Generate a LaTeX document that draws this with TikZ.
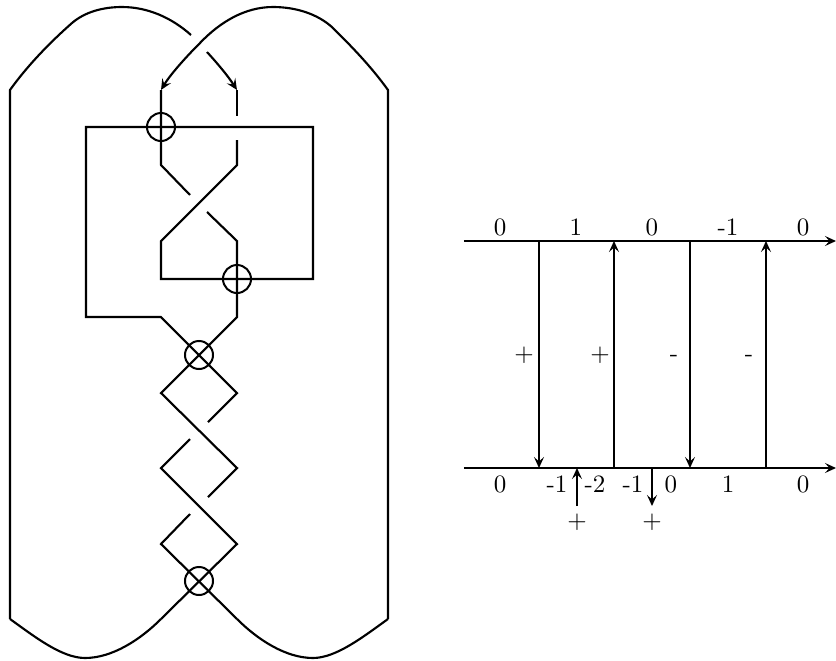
\documentclass[tikz,border=0pt]{standalone}
\usetikzlibrary{arrows.meta}
\tikzset{
  strand/.style={line width=0.85pt,line join=miter},
  ring/.style={circle,draw,line width=0.8pt,minimum size=11.2pt,inner sep=0pt,outer sep=0pt},
  lab/.style={inner sep=0pt,anchor=center},
  tip/.style={-{Stealth[length=4.4pt,width=4pt,inset=1.8pt]}}
}
\begin{document}
\begin{tikzpicture}[x=0.4pt,y=-0.4pt]
\useasboundingbox (0,0) rectangle (836,661);
% knot corners
\coordinate (LA) at (161,90);
\coordinate (RA) at (237,90);
\coordinate (L1) at (161,165);
\coordinate (R1) at (237,165);
\coordinate (L2) at (161,241);
\coordinate (R2) at (237,241);
\coordinate (L3) at (161,317);
\coordinate (R3) at (237,317);
\coordinate (L4) at (161,393);
\coordinate (R4) at (237,393);
\coordinate (L5) at (161,468);
\coordinate (R5) at (237,468);
\coordinate (L6) at (161,544);
\coordinate (R6) at (237,544);
\coordinate (L7) at (161,619);
\coordinate (R7) at (237,619);
\coordinate (OTL) at (10,90);
\coordinate (OTR) at (388,90);
\coordinate (OBL) at (10,619);
\coordinate (OBR) at (388,619);
% outer arcs
\draw[strand] (OBL) -- (OTL) .. controls (30,62) and (55,38) .. (72,23) .. controls (86,11) and (105,7) .. (122,7) .. controls (148,7) and (172,18) .. (191,35);
\draw[strand,tip] (OBR) -- (OTR) .. controls (370,65) and (350,45) .. (333,28) .. controls (318,14) and (296,7) .. (273,7) .. controls (245,7) and (220,22) .. (200,43) .. controls (185,58) and (170,75) .. (LA);
\draw[strand,tip] (207,52) .. controls (218,64) and (228,76) .. (RA);
\draw[strand] (OBL) .. controls (35,637) and (62,658) .. (85,658) .. controls (112,658) and (140,640) .. (L7);
\draw[strand] (OBR) .. controls (363,637) and (336,658) .. (313,658) .. controls (286,658) and (258,640) .. (R7);
% braid
\draw[strand] (LA) -- (L1) -- (190,195);
\draw[strand] (RA) -- (237,116);
\draw[strand] (237,140) -- (R1) -- (L2) -- (161,279) -- (313,279) -- (313,127) -- (86,127) -- (86,317) -- (L3) -- (R4) -- (208,422);
\draw[strand] (207,212) -- (R2) -- (R3) -- (L4) -- (R5) -- (208,497);
\draw[strand] (190,439) -- (L5) -- (R6) -- (L7);
\draw[strand] (190,514) -- (L6) -- (R7);
% rings
\node[ring] (c1) at (161,127) {};
\node[ring] (c2) at (237,279) {};
\node[ring] (c3) at (199,355) {};
\node[ring] (c4) at (199,581) {};
% chord diagram
\coordinate (T0) at (464,241);
\coordinate (T1) at (836,241);
\coordinate (B0) at (464,468);
\coordinate (B1) at (836,468);
\coordinate (Ta) at (539,241);
\coordinate (Tb) at (614,241);
\coordinate (Tc) at (690,241);
\coordinate (Td) at (766,241);
\coordinate (Ba) at (539,468);
\coordinate (Bb) at (614,468);
\coordinate (Bc) at (690,468);
\coordinate (Bd) at (766,468);
\coordinate (Se) at (577,468);
\coordinate (Ee) at (577,506);
\coordinate (Sf) at (652,468);
\coordinate (Ef) at (652,506);
\draw[strand,tip] (T0) -- (T1);
\draw[strand,tip] (B0) -- (B1);
\draw[strand,tip] (Ta) -- (Ba);
\draw[strand,tip] (Bb) -- (Tb);
\draw[strand,tip] (Tc) -- (Bc);
\draw[strand,tip] (Bd) -- (Td);
\draw[strand,tip] (Ee) -- (Se);
\draw[strand,tip] (Sf) -- (Ef);
% labels
\node[lab] (t1) at (500,227) {0};
\node[lab] (t2) at (576,227) {1};
\node[lab] (t3) at (652,227) {0};
\node[lab] (t4) at (728,227) {-1};
\node[lab] (t5) at (803,227) {0};
\node[lab] (b1) at (500,484) {0};
\node[lab] (b2) at (557,484) {-1};
\node[lab] (b3) at (595,484) {-2};
\node[lab] (b4) at (633,484) {-1};
\node[lab] (b5) at (671,484) {0};
\node[lab] (b6) at (728,484) {1};
\node[lab] (b7) at (803,484) {0};
\node[lab] (p1) at (524,355) {+};
\node[lab] (p2) at (600,355) {+};
\node[lab] (m1) at (674,358) {-};
\node[lab] (m2) at (749,358) {-};
\node[lab] (p3) at (577,522) {+};
\node[lab] (p4) at (652,522) {+};
\end{tikzpicture}
\end{document}
